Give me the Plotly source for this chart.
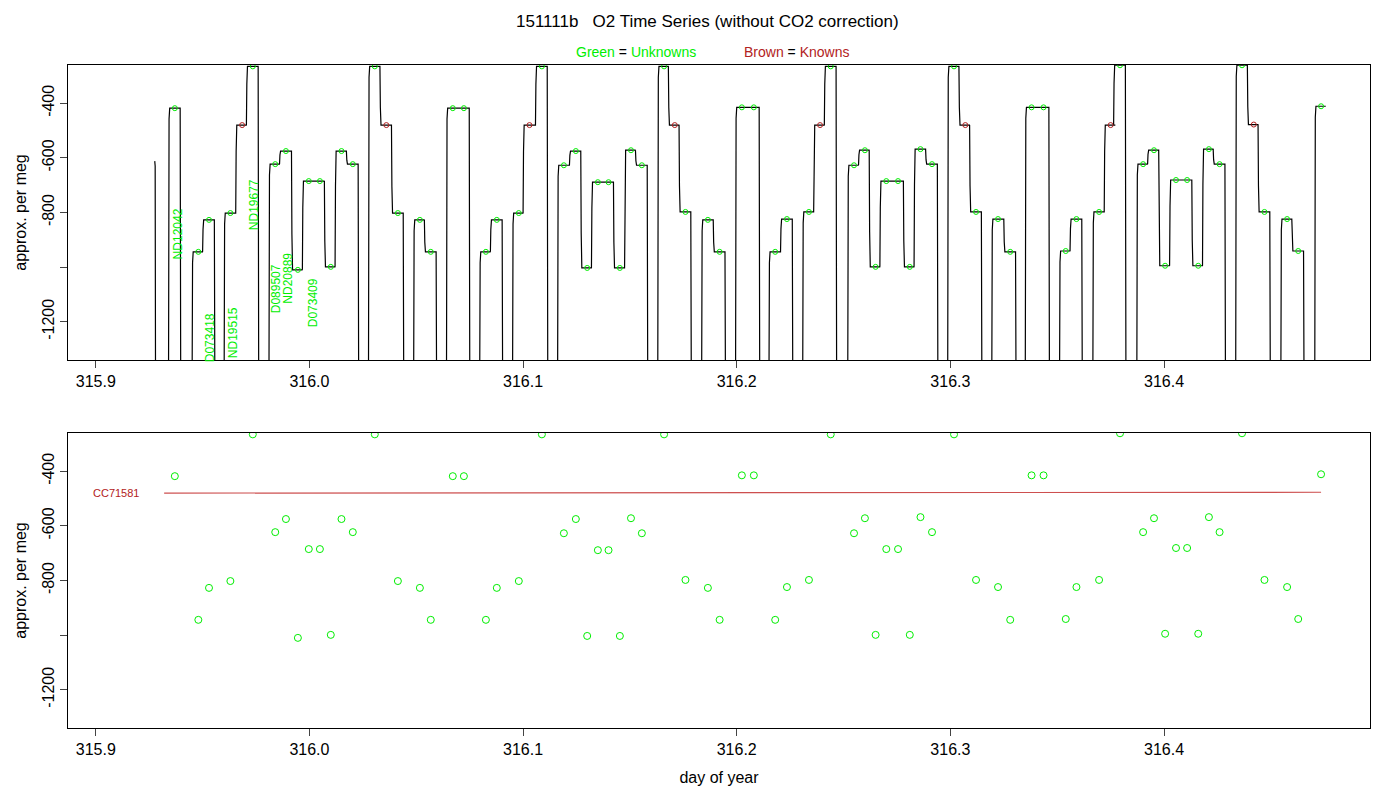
import plotly.graph_objects as go

# plateau markers (day of year, per meg) and group ids; a new group = line came up from the flush
unk_x = [315.937, 315.948, 315.953, 315.963, 315.9735, 315.984, 315.989, 315.9946, 315.9997, 316.0049,
         316.010, 316.015, 316.0203, 316.0306, 316.0414, 316.0517, 316.0568, 316.0671, 316.0723, 316.0826,
         316.0877, 316.098, 316.1088, 316.1191, 316.1247, 316.130, 316.135, 316.140, 316.1453, 316.1505,
         316.1556, 316.166, 316.176, 316.1865, 316.192, 316.2024, 316.208, 316.218, 316.2235, 316.2338,
         316.244, 316.2549, 316.260, 316.265, 316.270, 316.2755, 316.281, 316.286, 316.2914, 316.3017,
         316.312, 316.3223, 316.328, 316.338, 316.3436, 316.354, 316.359, 316.3696, 316.3794, 316.3902,
         316.3953, 316.4005, 316.4056, 316.4108, 316.416, 316.421, 316.426, 316.4365, 316.447, 316.4576,
         316.4628, 316.4735]
unk_y = [-418, -944, -827, -802, -265, -623, -575, -1010, -685, -685,
         -999, -575, -623, -265, -802, -827, -944, -418, -418, -944,
         -827, -802, -265, -627, -575, -1003, -689, -689, -1003, -572,
         -627, -265, -798, -827, -944, -415, -415, -944, -824, -798,
         -265, -627, -572, -999, -685, -685, -999, -568, -623, -265,
         -798, -824, -944, -415, -415, -941, -824, -798, -261, -623,
         -572, -995, -681, -681, -995, -568, -623, -261, -798, -824,
         -941, -411]
unk_grp = [1, 2, 2, 3, 3, 4, 4, 4, 4, 4,
           4, 4, 4, 5, 5, 6, 6, 7, 7, 8,
           8, 9, 9, 10, 10, 10, 10, 10, 10, 10,
           10, 11, 11, 12, 12, 13, 13, 14, 14, 15,
           15, 16, 16, 16, 16, 16, 16, 16, 16, 17,
           17, 18, 18, 19, 19, 20, 20, 21, 21, 22,
           22, 22, 22, 22, 22, 22, 22, 23, 23, 24,
           24, 25]

known_x = [315.9685, 316.036, 316.103, 316.171, 316.239, 316.307, 316.375, 316.442]
known_y = [-480, -480, -480, -480, -480, -480, -480, -478]
known_grp = [3, 5, 9, 11, 15, 17, 21, 23]

ref_name = "CC71581"
ref_x = [315.932, 316.4735]
ref_y = [-480, -477]

labels = ["ND12042", "D073418", "ND19515", "ND19677", "D089507", "ND20889", "D073409"]
label_x = [315.9385, 315.9535, 315.9640, 315.9740, 315.9845, 315.9898, 316.0015]
label_y = [-880, -1260, -1240, -770, -1080, -1040, -1130]

GREEN = "#00ee00"
BROWN = "#b22222"
FLOOR = -1600
OFF = 8  # page body margin in px

# build line: merge markers in time order
pts = sorted([(x, y, g) for x, y, g in zip(unk_x, unk_y, unk_grp)] +
             [(x, y, g) for x, y, g in zip(known_x, known_y, known_grp)])
lx, ly = [315.9276, 315.9278, 315.928], [-612, -630, FLOOR]
prev_g = None
for x, y, g in pts:
    if g != prev_g:
        if prev_g is not None:
            lx += [lx[-1] + 0.0003, lx[-1] + 0.0006]
            ly += [ly[-1], FLOOR]
        lx += [x - 0.0030, x - 0.0027, x - 0.0024]
        ly += [FLOOR, y - 40, y]
    else:
        lx += [x - 0.0030, x - 0.0028, x - 0.0025]
        ly += [ly[-1], y + (ly[-1] - y) * 0.3, y]
    lx.append(x + 0.0022)
    ly.append(y)
    prev_g = g

fig = go.Figure()
fig.add_trace(go.Scatter(x=lx, y=ly, mode="lines", line=dict(color="black", width=1.2),
                         xaxis="x", yaxis="y", showlegend=False))
fig.add_trace(go.Scatter(x=unk_x, y=unk_y, mode="markers", xaxis="x", yaxis="y", showlegend=False,
                         marker=dict(symbol="circle-open", color=GREEN, size=5)))
fig.add_trace(go.Scatter(x=known_x, y=known_y, mode="markers", xaxis="x", yaxis="y", showlegend=False,
                         marker=dict(symbol="circle-open", color=BROWN, size=5)))

fig.add_trace(go.Scatter(x=unk_x, y=unk_y, mode="markers", xaxis="x2", yaxis="y2", showlegend=False,
                         marker=dict(symbol="circle-open", color=GREEN, size=7, line=dict(width=1))))
fig.add_trace(go.Scatter(x=ref_x, y=ref_y, mode="lines", xaxis="x2", yaxis="y2", showlegend=False,
                         line=dict(color="#cd4f4f", width=1.2)))

font = dict(family="Liberation Sans, Arial", size=16, color="black")
ax = dict(range=[315.887, 316.4964], tickvals=[315.9, 316.0, 316.1, 316.2, 316.3, 316.4],
          ticktext=["315.9", "316.0", "316.1", "316.2", "316.3", "316.4"],
          showline=True, mirror=True, linecolor="black", linewidth=1, ticks="outside",
          ticklen=7, showgrid=False, zeroline=False, tickfont=font, automargin=False)
ay = dict(range=[-1340, -260], tickvals=[-400, -600, -800, -1000, -1200],
          ticktext=["-400", "-600", "-800", "", "-1200"], tickangle=-90,
          showline=True, mirror=True, linecolor="black", linewidth=1, ticks="outside",
          ticklen=7, showgrid=False, zeroline=False, tickfont=font, automargin=False,
          title=dict(text="approx. per meg", font=font, standoff=8))


def px(x):
    return (x - OFF) / 1400


def py(y):
    return 1 - (y - OFF) / 800


annots = [
    dict(text="151111b   O2 Time Series (without CO2 correction)", x=px(707), y=py(22),
         xref="paper", yref="paper", showarrow=False, yanchor="middle", font=dict(font, size=17)),
    dict(text=f"<span style='color:{GREEN}'>Green</span> = <span style='color:{GREEN}'>Unknowns</span>",
         x=px(636), y=py(52), xref="paper", yref="paper", showarrow=False, yanchor="middle",
         font=dict(font, size=14)),
    dict(text=f"<span style='color:{BROWN}'>Brown</span> = <span style='color:{BROWN}'>Knowns</span>",
         x=px(796), y=py(52), xref="paper", yref="paper", showarrow=False, yanchor="middle",
         font=dict(font, size=14)),
    dict(text=ref_name, x=315.9095, y=ref_y[0], xref="x2", yref="y2", showarrow=False,
         font=dict(font, size=11, color=BROWN)),
]
for t, x, y in zip(labels, label_x, label_y):
    annots.append(dict(text=t, x=x, y=y, xref="x", yref="y", showarrow=False, textangle=-90,
                       font=dict(font, size=12, color=GREEN)))

fig.update_layout(
    width=1400, height=800, plot_bgcolor="white", paper_bgcolor="white",
    margin=dict(l=0, r=0, t=0, b=0), font=font,
    xaxis=dict(ax, domain=[px(68), px(1370)], anchor="y"),
    yaxis=dict(ay, domain=[py(360), py(65)], anchor="x"),
    xaxis2=dict(ax, domain=[px(68), px(1370)], anchor="y2",
                title=dict(text="day of year", font=font, standoff=14)),
    yaxis2=dict(ay, domain=[py(728), py(433)], anchor="x2"),
    annotations=annots,
)
fig.write_html("out.html")
